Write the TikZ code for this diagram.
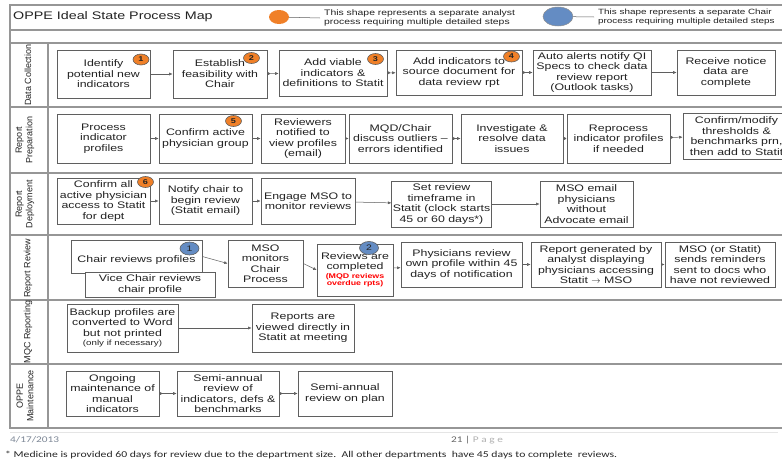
\documentclass[tikz,border=0pt]{standalone}
\usepackage{fontspec}
\setmainfont{Liberation Sans}[FakeStretch=1.3]
\newfontfamily\lanefont{Liberation Sans}
\newfontfamily\footfont{Carlito}[FakeStretch=1.3]
\usepackage{xcolor}
\usepackage{tikz}
\usetikzlibrary{arrows.meta,shapes.geometric}
\definecolor{figline}{RGB}{95,95,95}
\definecolor{figframe}{RGB}{150,150,150}
\definecolor{figtext}{RGB}{35,35,35}
\definecolor{figorange}{RGB}{240,128,40}
\definecolor{figblue}{RGB}{100,140,195}
\definecolor{figfoot}{RGB}{125,135,150}
\tikzset{
  frm/.style  ={draw=figframe, line width=1.4pt},
  bx/.style   ={draw=figline, fill=white, line width=0.7pt, align=center, inner sep=1pt,
                text=figtext, font=\fontsize{9.5}{10.5}\selectfont},
  lane/.style ={rotate=90, align=center, inner sep=0pt, text=figtext,
                font=\lanefont\fontsize{9}{10.5}\selectfont},
  bo/.style   ={ellipse, draw=figline, fill=figorange, line width=0.6pt, inner sep=0pt,
                minimum width=16pt, minimum height=11pt, text=figtext, font=\fontsize{7}{7}\selectfont\bfseries},
  bb/.style   ={ellipse, draw=figline, fill=figblue, line width=0.6pt, inner sep=0pt,
                minimum width=19pt, minimum height=13pt, text=figtext, font=\fontsize{8}{8}\selectfont},
  lgd/.style  ={anchor=west, align=left, inner ysep=0pt, inner xsep=4pt, text=figtext,
                font=\fontsize{8}{9}\selectfont},
  lnk/.style  ={draw=figline, line width=0.5pt, -{Latex[length=3.5pt,width=3pt]}},
  lnkd/.style ={draw=figline, line width=0.5pt, {Circle[length=2.6pt]}-{Latex[length=3.5pt,width=3pt]}},
}

\begin{document}
\begin{tikzpicture}[x=1pt,y=-1pt]
  \useasboundingbox (0,0) rectangle (782,463);
  \clip (0,0) rectangle (782,463);
  \fill[white] (0,0) rectangle (782,463);
  % header and lanes
  \draw[frm] (10,5) rectangle (790,30);
  \draw[frm] (10,30) rectangle (790,43);
  \draw[frm] (10,43) rectangle (790,428);
  \draw[frm] (48,43) -- (48,428);
  \draw[frm] (10,107) -- (790,107);
  \draw[frm] (10,173) -- (790,173);
  \draw[frm] (10,235) -- (790,235);
  \draw[frm] (10,300) -- (790,300);
  \draw[frm] (10,364) -- (790,364);
  \node[anchor=west, inner sep=0pt, text=figtext, font=\fontsize{11}{13}\selectfont] (ttl) at (13,17) {OPPE Ideal State Process Map};
  \node[ellipse, fill=figorange, inner sep=0pt, minimum width=20pt, minimum height=14pt] (lgo) at (279,17) {};
  \node[lgd] (lgot) at (320,18) {This shape represents a separate analyst\\process requiring multiple detailed steps};
  \draw[draw=figline, line width=0.5pt] (lgo) -- (lgot.west);
  \node[ellipse, draw=figline!70, fill=figblue, line width=0.5pt, inner sep=0pt, minimum width=30pt, minimum height=19pt] (lgb) at (558,16.5) {};
  \node[lgd, font=\fontsize{7.6}{9}\selectfont] (lgbt) at (594,17) {This shape represents a separate Chair\\process requiring multiple detailed steps};
  \draw[draw=figline, line width=0.5pt] (lgb) -- (lgbt.west);
  \node[lane] (ln1) at (28,75) {Data Collection};
  \node[lane] (ln2) at (25,140) {Report\\Preparation};
  \node[lane] (ln3) at (25,204) {Report\\Deployment};
  \node[lane] (ln4) at (28,268) {Report Review};
  \node[lane] (ln5) at (28,332) {MQC Reporting};
  \node[lane] (ln6) at (25,396) {OPPE\\Maintenance};
  % data collection
  \node[bx, minimum width=93pt, minimum height=48pt] (dc1) at (103.5,74) {Identify\\potential new\\indicators};
  \node[bx, minimum width=94pt, minimum height=48pt] (dc2) at (220,74) {Establish\\feasibility with\\Chair};
  \node[bx, minimum width=108pt, minimum height=46pt] (dc3) at (333,73) {Add viable\\indicators \&\\definitions to Statit};
  \node[bx, minimum width=126pt, minimum height=45pt] (dc4) at (459,72.5) {Add indicators to\\source document for\\data review rpt};
  \node[bx, minimum width=118pt, minimum height=45pt] (dc5) at (592,72.5) {Auto alerts notify QI\\Specs to check data\\review report\\(Outlook tasks)};
  \node[bx, minimum width=98pt, minimum height=45pt] (dc6) at (726,72.5) {Receive notice\\data are\\complete};
  \draw[lnk] (dc1) -- (dc2);
  \draw[lnkd] (dc2) -- (dc3);
  \draw[lnkd] (dc3) -- (dc4);
  \draw[lnkd] (dc4) -- (dc5);
  \draw[lnk] (dc5) -- (dc6);
  % report preparation
  \node[bx, minimum width=93pt, minimum height=49pt] (rp1) at (103.5,138.5) {Process\\indicator\\profiles};
  \node[bx, minimum width=93pt, minimum height=49pt] (rp2) at (205.5,138.5) {Confirm active\\physician group};
  \node[bx, minimum width=84pt, minimum height=49pt] (rp3) at (303,138.5) {Reviewers\\notified to\\view profiles\\(email)};
  \node[bx, minimum width=103pt, minimum height=49pt] (rp4) at (400.5,138.5) {MQD/Chair\\discuss outliers --\\errors identified};
  \node[bx, minimum width=102pt, minimum height=49pt] (rp5) at (512,138.5) {Investigate \&\\resolve data\\issues};
  \node[bx, minimum width=103pt, minimum height=49pt] (rp6) at (618.5,138.5) {Reprocess\\indicator profiles\\if needed};
  \node[bx, minimum width=107pt, minimum height=46pt] (rp7) at (736.5,136) {Confirm/modify\\thresholds \&\\benchmarks prn,\\then add to Statit};
  \draw[lnk] (rp1) -- (rp2);
  \draw[lnk] (rp2) -- (rp3);
  \draw[lnk] (rp3) -- (rp4);
  \draw[lnkd] (rp4) -- (rp5);
  \draw[lnkd] (rp5) -- (rp6);
  \draw[lnkd] (rp6) -- (rp7);
  % report deployment
  \node[bx, minimum width=93pt, minimum height=46pt] (rd1) at (103.5,201) {Confirm all\\active physician\\access to Statit\\for dept};
  \node[bx, minimum width=93pt, minimum height=46pt] (rd2) at (205.5,201) {Notify chair to\\begin review\\(Statit email)};
  \node[bx, minimum width=94pt, minimum height=46pt] (rd3) at (308,201) {Engage MSO to\\monitor reviews};
  \node[bx, minimum width=99pt, minimum height=46pt] (rd4) at (441.5,204) {Set review\\timeframe in\\Statit (clock starts\\45 or 60 days*)};
  \node[bx, minimum width=93pt, minimum height=46pt] (rd5) at (586.5,204) {MSO email\\physicians\\without\\Advocate email};
  \draw[lnk] (rd1) -- (rd2);
  \draw[lnk] (rd2) -- (rd3);
  \draw[lnk] (rd3) -- (rd4);
  \draw[lnk] (rd4) -- (rd5);
  % report review
  \node[bx, minimum width=131pt, minimum height=33pt, text height=14pt] (rr1) at (136.5,256.5) {Chair reviews profiles};
  \node[bx, minimum width=130pt, minimum height=25pt] (rr2) at (150,284.5) {Vice Chair reviews\\chair profile};
  \node[bx, minimum width=75pt, minimum height=47pt] (rr3) at (265.5,263.5) {MSO\\monitors\\Chair\\Process};
  \node[bx, minimum width=76pt, minimum height=52pt] (rr4) at (355,270) {Reviews are\\completed\\[-2pt]{\color{red}\bfseries\fontsize{6.8}{7.5}\selectfont(MQD reviews}\\[-3pt]{\color{red}\bfseries\fontsize{6.8}{7.5}\selectfont overdue rpts)}};
  \node[bx, minimum width=121pt, minimum height=45pt] (rr5) at (461.5,264.5) {Physicians review\\own profile within 45\\days of notification};
  \node[bx, minimum width=130pt, minimum height=45pt] (rr6) at (596,264.5) {Report generated by\\analyst displaying\\physicians accessing\\Statit $\rightarrow$ MSO};
  \node[bx, minimum width=110pt, minimum height=45pt] (rr7) at (720,264.5) {MSO (or Statit)\\sends reminders\\sent to docs who\\have not reviewed};
  \draw[lnk] (rr1.east) -- (rr3.west);
  \draw[lnk] (rr3.east) -- (rr4.west);
  \draw[lnk] (rr4) -- (rr5);
  \draw[lnk] (rr5) -- (rr6);
  \draw[lnk] (rr6) -- (rr7);
  % mqc reporting
  \node[bx, minimum width=111pt, minimum height=48pt] (mq1) at (122.5,328) {Backup profiles are\\converted to Word\\but not printed\\[-1pt]{\fontsize{7.5}{8}\selectfont(only if necessary)}};
  \node[bx, minimum width=102pt, minimum height=48pt] (mq2) at (303,328) {Reports are\\viewed directly in\\Statit at meeting};
  \draw[lnk] (mq1) -- (mq2);
  % oppe maintenance
  \node[bx, minimum width=93pt, minimum height=45pt] (om1) at (112.5,393.5) {Ongoing\\maintenance of\\manual\\indicators};
  \node[bx, minimum width=102pt, minimum height=45pt] (om2) at (228,393.5) {Semi-annual\\review of\\indicators, defs \&\\benchmarks};
  \node[bx, minimum width=94pt, minimum height=45pt] (om3) at (345,393.5) {Semi-annual\\review on plan};
  \draw[lnkd] (om1) -- (om2);
  \draw[lnkd] (om2) -- (om3);
  % step markers
  \node[bo] (so1) at (141,59.5) {1};
  \node[bo] (so2) at (251.5,58) {2};
  \node[bo] (so3) at (375.5,59) {3};
  \node[bo] (so4) at (511.5,56.5) {4};
  \node[bo] (so5) at (233.5,121) {5};
  \node[bo] (so6) at (145.5,182) {6};
  \node[bb] (sb1) at (189.5,248.5) {1};
  \node[bb] (sb2) at (369,248) {2};
  % footer
  \draw[draw=black!10, line width=1pt] (10,432) -- (778,432);
  \node[anchor=west, inner sep=0pt, text=figfoot, font=\footfont\fontsize{8.7}{10}\selectfont] (fdt) at (10,440) {4/17/2013};
  \node[anchor=west, inner sep=0pt, text=black!60, font=\footfont\fontsize{8.7}{10}\selectfont] (fpg) at (451,440) {21 | {\color{black!30}P a g e}};
  \node[anchor=west, inner sep=0pt, text=black!85, font=\footfont\fontsize{9}{10}\selectfont] (fnt) at (5,455) {* Medicine is provided 60 days for review due to the department size.\ \ All other departments\ \ have 45 days to complete\ \ reviews.};
\end{tikzpicture}
\end{document}
